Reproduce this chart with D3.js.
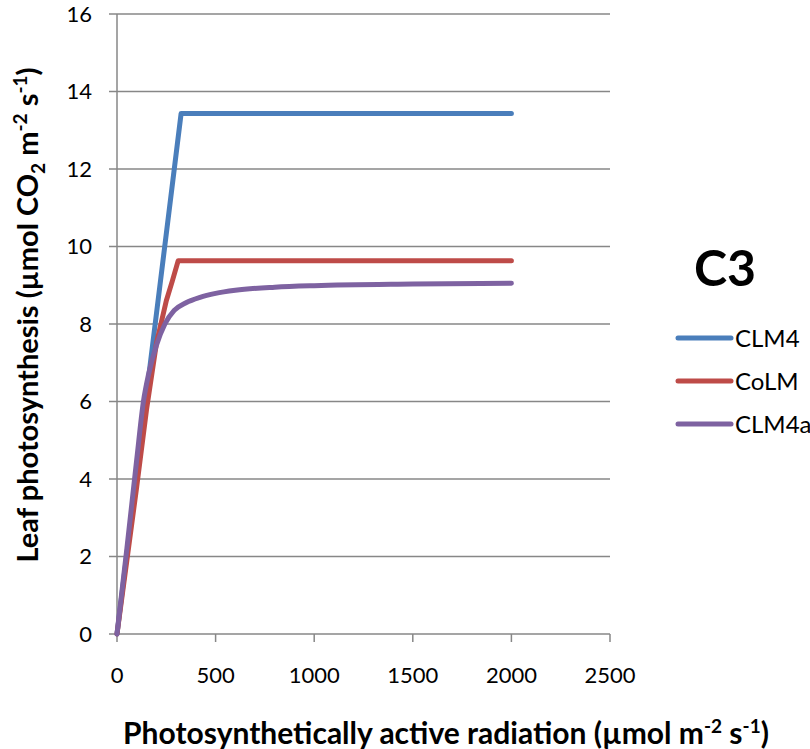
<!DOCTYPE html>
<html>
<head>
<meta charset="utf-8">
<script src="https://cdn.jsdelivr.net/npm/d3@7"></script>
<style>
body { margin: 0; background: #fff; }
text { font-family: Lato, "Open Sans", sans-serif; fill: #000; }
</style>
</head>
<body>
<svg id="chart" width="810" height="749"></svg>
<script>
// values
var seriesNames = ["CLM4", "CoLM", "CLM4a"];
var colors = ["#4A7EBB", "#BE4B48", "#7E62A1"];
var clm4 = [[0, 0], [325, 13.43], [2000, 13.43]];
var colm = [[0, 0], [50, 1.9], [100, 3.8], [150, 5.8], [200, 7.5], [250, 8.6], [280, 9.1], [310, 9.63], [2000, 9.63]];
var clm4a = [[0, 0], [50, 2.2], [100, 4.5], [134, 6], [160, 6.7], [200, 7.45], [243, 8], [290, 8.35], [350, 8.55],
             [421, 8.69], [500, 8.79], [600, 8.87], [800, 8.95], [1000, 8.99], [1500, 9.03], [2000, 9.05]];
var xTicks = [0, 500, 1000, 1500, 2000, 2500];
var yTicks = [0, 2, 4, 6, 8, 10, 12, 14, 16];

var svg = d3.select("#chart");
var margin = {top: 14, left: 117};
var width = 493, height = 620;

var x = d3.scaleLinear().domain([0, 2500]).range([0, width]);
var y = d3.scaleLinear().domain([0, 16]).range([height, 0]);

var g = svg.append("g")
    .attr("transform", "translate(" + margin.left + "," + margin.top + ")");

// gridlines
g.append("g")
    .selectAll("line")
    .data(yTicks)
  .enter().append("line")
    .attr("x1", -8).attr("x2", width)
    .attr("y1", function(d) { return y(d); })
    .attr("y2", function(d) { return y(d); })
    .attr("stroke", "#878787").attr("stroke-width", 1.5);

g.append("line")
    .attr("x1", 0).attr("x2", 0).attr("y1", 0).attr("y2", height)
    .attr("stroke", "#878787").attr("stroke-width", 1.5);

g.append("g")
    .selectAll("line")
    .data(xTicks)
  .enter().append("line")
    .attr("x1", function(d) { return x(d); })
    .attr("x2", function(d) { return x(d); })
    .attr("y1", height).attr("y2", height + 8)
    .attr("stroke", "#878787").attr("stroke-width", 1.5);

// tick labels
g.selectAll(".ylab")
    .data(yTicks)
  .enter().append("text")
    .attr("class", "ylab")
    .attr("x", -25)
    .attr("y", function(d) { return y(d); })
    .attr("dy", "0.36em")
    .attr("text-anchor", "end")
    .style("font-size", "22px")
    .text(function(d) { return d; });

g.selectAll(".xlab")
    .data(xTicks)
  .enter().append("text")
    .attr("class", "xlab")
    .attr("x", function(d) { return x(d); })
    .attr("y", height + 49)
    .attr("text-anchor", "middle")
    .style("font-size", "22px")
    .text(function(d) { return d; });

// series
var line = d3.line().x(function(d) { return x(d[0]); }).y(function(d) { return y(d[1]); });
var smooth = d3.line().curve(d3.curveMonotoneX)
    .x(function(d) { return x(d[0]); }).y(function(d) { return y(d[1]); });

[[clm4, line], [colm, line], [clm4a, smooth]].forEach(function(s, i) {
  g.append("path")
      .datum(s[0])
      .attr("d", s[1])
      .attr("fill", "none")
      .attr("stroke", colors[i])
      .attr("stroke-width", 5)
      .attr("stroke-linejoin", "round")
      .attr("stroke-linecap", "round");
});

// axis titles
var xt = svg.append("text")
    .attr("x", 446).attr("y", 744)
    .attr("text-anchor", "middle")
    .style("font-size", "30px").style("font-weight", "bold");
xt.append("tspan").text("Photosynthetically active radiation (\u00b5mol m");
xt.append("tspan").attr("dy", -11).style("font-size", "19px").text("-2");
xt.append("tspan").attr("dy", 11).text(" s");
xt.append("tspan").attr("dy", -11).style("font-size", "19px").text("-1");
xt.append("tspan").attr("dy", 11).text(")");

var yt = svg.append("text")
    .attr("transform", "translate(38,315) rotate(-90)")
    .attr("text-anchor", "middle")
    .style("font-size", "29px").style("font-weight", "bold");
yt.append("tspan").text("Leaf photosynthesis (\u00b5mol CO");
yt.append("tspan").attr("dy", 7).style("font-size", "19px").text("2");
yt.append("tspan").attr("dy", -7).text(" m");
yt.append("tspan").attr("dy", -11).style("font-size", "19px").text("-2");
yt.append("tspan").attr("dy", 11).text(" s");
yt.append("tspan").attr("dy", -11).style("font-size", "19px").text("-1");
yt.append("tspan").attr("dy", 11).text(")");

// legend
svg.append("text")
    .attr("x", 725).attr("y", 286)
    .attr("text-anchor", "middle")
    .style("font-size", "50px").style("font-weight", "bold")
    .text("C3");

var leg = svg.append("g").selectAll("g")
    .data(seriesNames)
  .enter().append("g")
    .attr("transform", function(d, i) { return "translate(0," + (338 + i * 43) + ")"; });
leg.append("line")
    .attr("x1", 678).attr("x2", 731)
    .attr("stroke", function(d, i) { return colors[i]; })
    .attr("stroke-width", 5).attr("stroke-linecap", "round");
leg.append("text")
    .attr("x", 735).attr("dy", "0.36em")
    .style("font-size", "24px")
    .text(function(d) { return d; });
</script>
</body>
</html>
